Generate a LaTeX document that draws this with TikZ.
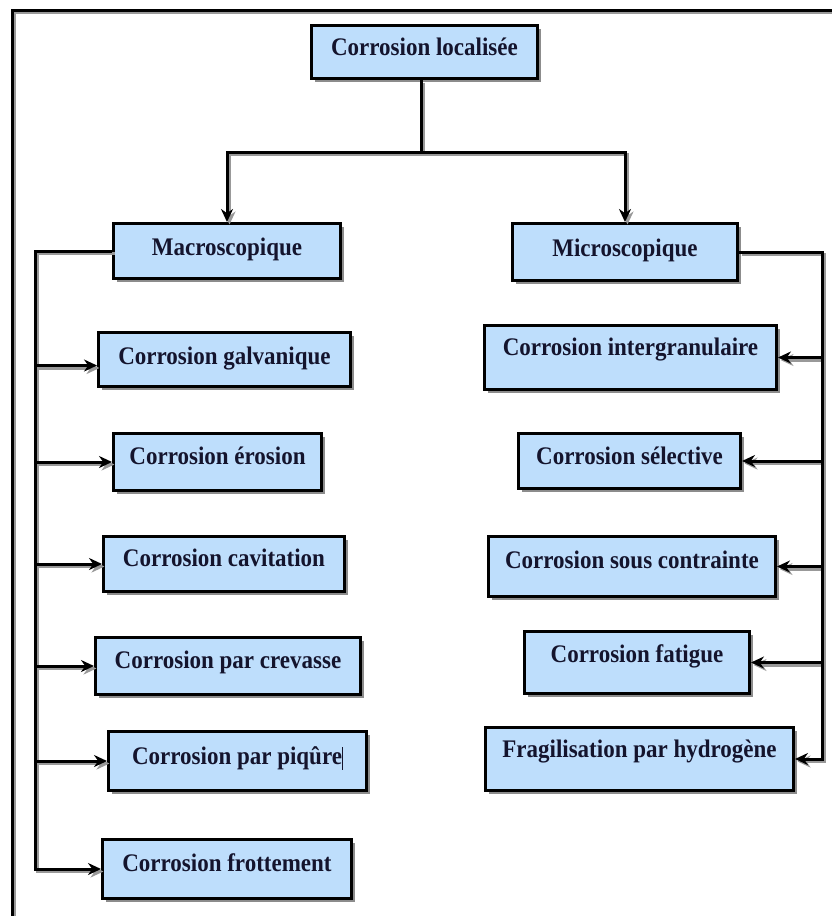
\documentclass[tikz,border=0pt]{standalone}
\usepackage{fontspec}
\setmainfont{Liberation Serif}
\usetikzlibrary{arrows.meta,shadows,calc}
\definecolor{boxblue}{RGB}{190,222,252}
\definecolor{ink}{RGB}{20,20,45}
\newcommand\stretchtxt[1]{\scalebox{1}[1.1]{#1}}
\begin{document}
\begin{tikzpicture}[x=1pt,y=-1pt,
 box/.style={draw=black, line width=3pt, fill=boxblue, inner xsep=0pt, inner ysep=0pt,
   text height=17pt, text depth=#1, font=\bfseries\fontsize{23}{26}\selectfont, text=ink,
   drop shadow={shadow xshift=3pt, shadow yshift=-3pt, fill=black!45, opacity=1}},
 conn/.style={line width=3pt, draw=black},
 arr/.style={conn, -{Stealth[length=13pt,width=12pt]}},
]
\useasboundingbox (0,0) rectangle (832,916);

% boxes
\node[box=9.3pt, minimum width=226pt, minimum height=53pt] (top) at (424.5,52) {\stretchtxt{Corrosion localisée}};
\node[box=7.3pt, minimum width=227pt, minimum height=55pt] (macro) at (227,251) {\stretchtxt{Macroscopique}};
\node[box=7.3pt, minimum width=225pt, minimum height=57pt] (micro) at (625,252) {\stretchtxt{Microscopique}};

\node[box=7.3pt, minimum width=252pt, minimum height=54pt] (gal) at (224.5,359.5) {\stretchtxt{Corrosion galvanique}};
\node[box=11.3pt, minimum width=208pt, minimum height=57pt] (ero) at (217.5,462) {\stretchtxt{Corrosion érosion}};
\node[box=11.3pt, minimum width=241pt, minimum height=55pt] (cav) at (224,564) {\stretchtxt{Corrosion cavitation}};
\node[box=11.3pt, minimum width=265pt, minimum height=57pt] (crev) at (228,666) {\stretchtxt{Corrosion par crevasse}};
\node[box=9.3pt, minimum width=258pt, minimum height=59pt] (piq) at (237.5,761) {\stretchtxt{Corrosion par piqûre\rule[-4.5pt]{0.9pt}{21pt}}};
\node[box=11.3pt, minimum width=249pt, minimum height=59pt] (frot) at (227,869) {\stretchtxt{Corrosion frottement}};

\node[box=20.3pt, minimum width=292pt, minimum height=64pt] (inter) at (630.5,357.5) {\stretchtxt{Corrosion intergranulaire}};
\node[box=10.3pt, minimum width=222pt, minimum height=55pt] (sel) at (629.5,461) {\stretchtxt{Corrosion sélective}};
\node[box=12.3pt, minimum width=287pt, minimum height=60pt] (sous) at (632,566.5) {\stretchtxt{Corrosion sous contrainte}};
\node[box=17.3pt, minimum width=225pt, minimum height=62pt] (fat) at (637,662.5) {\stretchtxt{Corrosion fatigue}};
\node[box=20.3pt, minimum width=308pt, minimum height=63pt] (frag) at (639.5,759) {\stretchtxt{Fragilisation par hydrogène}};

\coordinate (j) at (421,152);
\coordinate (lx) at (35,0);
\coordinate (rx) at (822,0);
\coordinate (galin) at ($(gal.west)+(0,6)$);

\newcommand\drawconns{%
  % frame
  \draw[conn] (12,916) -- (12,10) -- (832,10);
  % top
  \draw[conn] (top.south -| j) -- (j);
  \draw[arr] (j) -| (macro.north);
  \draw[arr] (j) -| (micro.north);
  % left branch
  \draw[arr] (macro.west) -- (macro.west -| lx) |- (frot.west);
  \draw[arr] (galin -| lx) -- (galin);
  \draw[arr] (ero.west -| lx) -- (ero.west);
  \draw[arr] (cav.west -| lx) -- (cav.west);
  \draw[arr] (crev.west -| lx) -- (crev.west);
  \draw[arr] (piq.west -| lx) -- (piq.west);
  % right branch
  \draw[arr] (micro.east) -- (micro.east -| rx) |- (frag.east);
  \draw[arr] (inter.east -| rx) -- (inter.east);
  \draw[arr] (sel.east -| rx) -- (sel.east);
  \draw[arr] (sous.east -| rx) -- (sous.east);
  \draw[arr] (fat.east -| rx) -- (fat.east);
}
\begin{scope}[transform canvas={shift={(2.5pt,-2.5pt)}}, conn/.style={line width=3pt, draw=black!40}]
  \drawconns
\end{scope}
\drawconns
\end{tikzpicture}
\end{document}
